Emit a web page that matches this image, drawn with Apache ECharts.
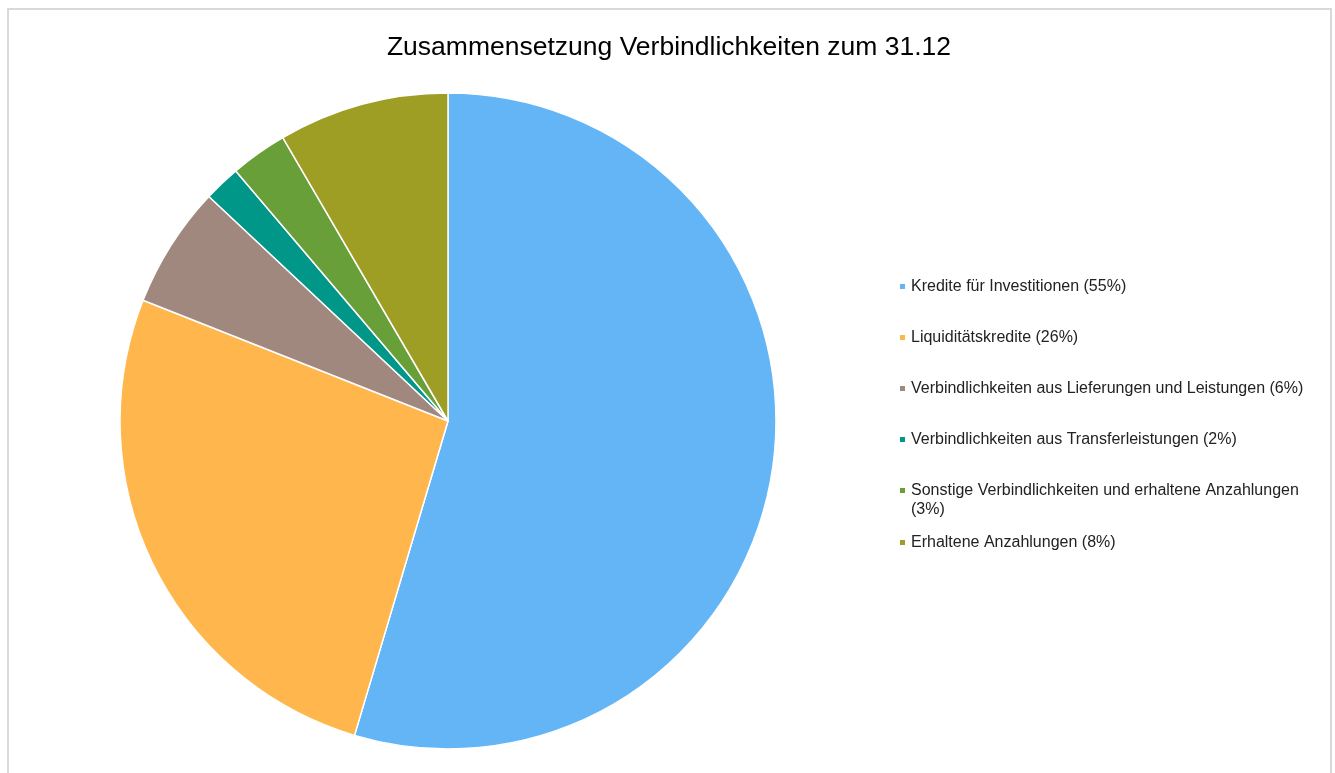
<!DOCTYPE html>
<html>
<head>
<meta charset="utf-8">
<title>Zusammensetzung Verbindlichkeiten</title>
<script src="https://cdn.jsdelivr.net/npm/echarts@6/dist/echarts.min.js"></script>
<style>
  html, body { margin: 0; padding: 0; background: #fff; overflow: hidden; }
  #frame { position: absolute; left: 7px; top: 8px; width: 1325px; height: 800px; border: 2px solid #d9d9d9; box-sizing: border-box; }
  #main { position: absolute; left: 0; top: 0; width: 1335px; height: 773px; }
</style>
</head>
<body>
<div id="frame"></div>
<div id="main"></div>
<script>
  // Kategorien und Anteile (in %)
  var kategorien = [
    'Kredite für Investitionen',
    'Liquiditätskredite',
    'Verbindlichkeiten aus Lieferungen und Leistungen',
    'Verbindlichkeiten aus Transferleistungen',
    'Sonstige Verbindlichkeiten und erhaltene Anzahlungen',
    'Erhaltene Anzahlungen'
  ];
  var werte = [54.6, 26.4, 6.0, 1.8, 2.8, 8.4];
  var farben = ['#64B5F6', '#FFB74D', '#A1887F', '#009688', '#689F38', '#9E9D24'];

  var summe = werte.reduce(function (a, b) { return a + b; }, 0);
  function prozent(name) {
    var i = kategorien.indexOf(name);
    return Math.round(werte[i] / summe * 100);
  }

  // Legendenpositionen (Mitte der ersten Zeile)
  var legendY = [286.5, 337.5, 388.5, 439.5, 490.5, 542.5];

  var legenden = kategorien.map(function (name, i) {
    var wrap = name.indexOf('Sonstige') === 0;
    return {
      orient: 'vertical',
      left: 898,
      // umbrochener Eintrag: Leerzeile oben, damit das Symbol auf der ersten Zeile sitzt
      top: wrap ? legendY[i] - 28.5 : legendY[i] - 9.5,
      padding: 0,
      selectedMode: false,
      icon: 'rect',
      itemWidth: 7,
      itemHeight: 7,
      data: [name],
      formatter: function (n) {
        return wrap ? ' \n' + n + '\n(' + prozent(n) + '%)' : n + ' (' + prozent(n) + '%)';
      },
      textStyle: {
        fontFamily: 'Liberation Sans, Arial, sans-serif',
        fontSize: 16,
        lineHeight: 19,
        color: '#222'
      }
    };
  });

  var myChart = echarts.init(document.getElementById('main'));
  var option = {
    animation: false,
    color: farben,
    title: {
      text: 'Zusammensetzung Verbindlichkeiten zum 31.12',
      left: 664,
      textAlign: 'center',
      top: 29,
      textStyle: {
        fontFamily: 'Liberation Sans, Arial, sans-serif',
        fontSize: 26.5,
        fontWeight: 'normal',
        color: '#000'
      }
    },
    legend: legenden,
    series: [
      {
        type: 'pie',
        center: [448, 421],
        radius: 328,
        startAngle: 90,
        clockwise: true,
        label: { show: false },
        labelLine: { show: false },
        emphasis: { disabled: true },
        itemStyle: { borderColor: '#fff', borderWidth: 1.5 },
        data: kategorien.map(function (name, i) {
          return { name: name, value: werte[i] };
        })
      }
    ]
  };
  myChart.setOption(option);
</script>
</body>
</html>
